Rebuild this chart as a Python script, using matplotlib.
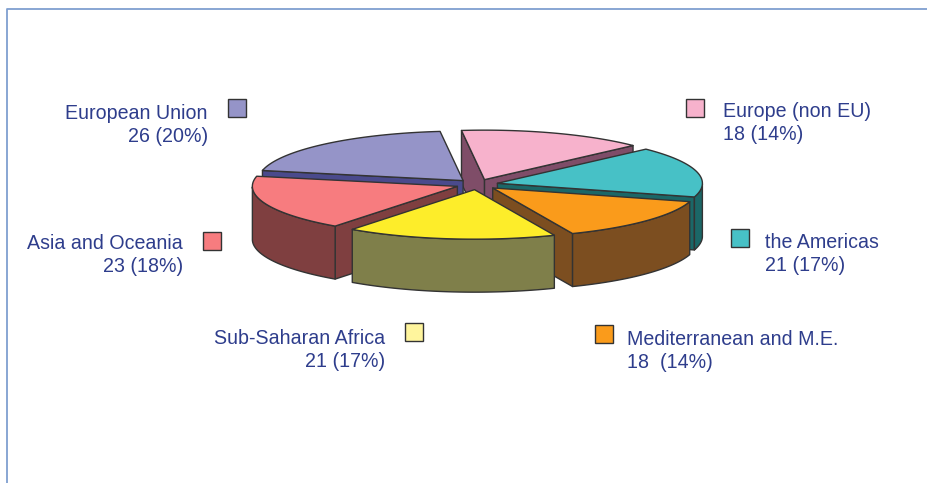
import numpy as np
import matplotlib
matplotlib.use("Agg")
import matplotlib.pyplot as plt
from matplotlib.patches import Polygon, Rectangle

# ---- data ----
categories = ["Europe (non EU)", "the Americas", "Mediterranean and M.E.",
              "Sub-Saharan Africa", "Asia and Oceania", "European Union"]
values = [18, 21, 18, 21, 23, 26]
value_labels = ["18 (14%)", "21 (17%)", "18  (14%)", "21 (17%)", "23 (18%)", "26 (20%)"]

# ---- styles ----
top_colors = ["#F7B2CC", "#47C1C6", "#FA9B1B", "#FDED2A", "#F77C7F", "#9594C8"]
side_colors = ["#7F4D68", "#1B6767", "#7C4E20", "#7F7F4A", "#7F3F40", "#4A4A8C"]
swatch_colors = ["#F7B2CC", "#47C1C6", "#FA9B1B", "#FFF59D", "#F77C7F", "#9594C8"]
draw_order = [0, 5, 1, 4, 2, 3]

# ---- layout (pixels) ----
CX, CY = 477.0, 184.5
RX, RY = 205.0, 49.5
DEPTH = 53.0
EXPLODE_X, EXPLODE_Y = 21.0, 5.2
START_ANGLE = 94.5
FAR_SIDE_WARP = 2.0   # degrees of perspective shift at the far side of the pie
EDGE = "#333333"
TEXT = "#2E3D8C"
FRAME = "#7F9FD0"

label_pos = [(723, 123, "left"), (765, 254, "left"), (627, 351, "left"),
             (385, 350, "right"), (183, 255, "right"), (208, 125, "right")]
swatch_pos = [(686, 99), (731, 229), (595, 325), (405, 323), (203, 232), (228, 99)]
SWATCH = 18

plt.rcParams["font.family"] = ["Liberation Sans", "DejaVu Sans"]
fig = plt.figure(figsize=(9.28, 4.83), dpi=100)
ax = fig.add_axes([0, 0, 1, 1])
ax.set_xlim(0, 928)
ax.set_ylim(483, 0)
ax.axis("off")

# frame
ax.plot([7, 7, 928], [483, 9, 9], color=FRAME, lw=1.3, solid_capstyle="butt")

# pie geometry computed from the values
v = np.asarray(values, dtype=float)
sweeps = v / v.sum() * 360.0
starts = START_ANGLE - np.concatenate([[0], np.cumsum(sweeps)[:-1]])
ends = starts - sweeps


def warp(angle_deg):
    s = np.sin(np.radians(angle_deg))
    return angle_deg + FAR_SIDE_WARP * max(0.0, s) ** 8


def add_poly(pts, fc, z):
    ax.add_patch(Polygon(pts, closed=True, facecolor=fc, edgecolor=EDGE,
                         lw=1.0, joinstyle="round", zorder=z))


for n, i in enumerate(draw_order):
    a0, a1 = starts[i], ends[i]
    mid = np.radians((a0 + a1) / 2)
    ox = CX + EXPLODE_X * np.cos(mid)
    oy = CY - EXPLODE_Y * np.sin(mid)
    th = np.radians(np.linspace(warp(a0), warp(a1), 90))
    xs = ox + RX * np.cos(th)
    ys = oy - RY * np.sin(th)
    z = 2 + n
    # radial walls, only those that face the viewer
    if np.cos(th[0]) < 0:
        add_poly([(ox, oy), (xs[0], ys[0]), (xs[0], ys[0] + DEPTH), (ox, oy + DEPTH)],
                 side_colors[i], z)
    if np.cos(th[-1]) > 0:
        add_poly([(ox, oy), (xs[-1], ys[-1]), (xs[-1], ys[-1] + DEPTH), (ox, oy + DEPTH)],
                 side_colors[i], z)
    # outer wall (front half only)
    front = np.sin(th) <= 0
    if front.any():
        fx, fy = xs[front], ys[front]
        add_poly(np.vstack([np.column_stack([fx, fy]),
                            np.column_stack([fx[::-1], fy[::-1] + DEPTH])]),
                 side_colors[i], z)
    # top
    add_poly(np.vstack([[ox, oy], np.column_stack([xs, ys])]), top_colors[i], z)

# legend-like labels
for i, name in enumerate(categories):
    x, y, ha = label_pos[i]
    ax.text(x, y, f"{name}\n{value_labels[i]}", ha=ha, va="center", multialignment=ha,
            fontsize=14.1, color=TEXT, linespacing=1.28, zorder=20)
    sx, sy = swatch_pos[i]
    ax.add_patch(Rectangle((sx, sy), SWATCH, SWATCH, facecolor=swatch_colors[i],
                           edgecolor=EDGE, lw=1.0, zorder=20))

fig.savefig("out.png", dpi=100, facecolor="white")
